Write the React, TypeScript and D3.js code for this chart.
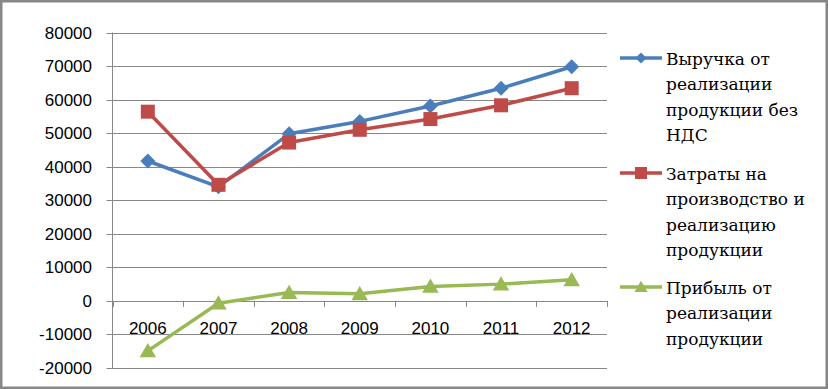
import * as d3 from "d3";

const years = ["2006", "2007", "2008", "2009", "2010", "2011", "2012"];
const revenue = [41700, 34000, 49800, 53500, 58100, 63400, 69800];
const costs = [56400, 34600, 47200, 51000, 54200, 58300, 63400];
const profit = [-14900, -700, 2500, 2100, 4300, 5000, 6300];
const yTicks = [80000, 70000, 60000, 50000, 40000, 30000, 20000, 10000, 0, -10000, -20000];

const legendLabels = [
  ["Выручка от", "реализации", "продукции без", "НДС"],
  ["Затраты на", "производство и", "реализацию", "продукции"],
  ["Прибыль от", "реализации", "продукции"],
];

const W = 828;
const H = 389;
const PL = 112.5;
const PR = 607;
const PT = 32.5;
const PB = 368;

const BLUE = "#4a7ebb";
const RED = "#be4b48";
const GREEN = "#98b954";
const GRID = "#878787";
const SANS = "'Liberation Sans', Arial, sans-serif";
const SERIF = "'DejaVu Serif', serif";

type Marker = "diamond" | "square" | "triangle";

function markerPath(kind: Marker, s: number) {
  if (kind === "diamond") return `M0,${-s}L${s},0L0,${s}L${-s},0Z`;
  if (kind === "square") return `M${-s},${-s}H${s}V${s}H${-s}Z`;
  return `M0,${-s * 1.05}L${s * 1.1},${s * 0.85}L${-s * 1.1},${s * 0.85}Z`;
}

export default function App() {
  const x = d3.scaleBand<string>().domain(years).range([PL, PR]);
  const y = d3.scaleLinear().domain([-20000, 80000]).range([PB, PT]);
  const cx = (yr: string) => x(yr)! + x.bandwidth() / 2;

  const series = [
    { values: revenue, color: BLUE, marker: "diamond" as Marker, size: 7.5, lsize: 5.5 },
    { values: costs, color: RED, marker: "square" as Marker, size: 7, lsize: 6 },
    { values: profit, color: GREEN, marker: "triangle" as Marker, size: 7.5, lsize: 6 },
  ];

  const line = d3.line<number>().x((_, i) => cx(years[i])).y(d => y(d));
  const legendY = [58, 173, 287];
  const bounds = [PL, ...years.map(yr => x(yr)! + x.bandwidth())];

  return (
    <svg width={W} height={H} style={{ position: "absolute", left: 0, top: 0 }}>
      <rect x={0} y={0} width={W} height={H} fill="#fff" />
      <rect x={1.25} y={1.25} width={W - 2.5} height={H - 2.5} fill="none" stroke="#878787" strokeWidth={2.5} />

      {/* gridlines + y labels */}
      {yTicks.map(t => (
        <g key={t}>
          <line x1={PL - 6} x2={PR} y1={Math.round(y(t)) + 0.5} y2={Math.round(y(t)) + 0.5} stroke={GRID} strokeWidth={1} />
          <text x={92} y={y(t) + 6} textAnchor="end" style={{ fontFamily: SANS }} fontSize={17} fill="#000">
            {t}
          </text>
        </g>
      ))}
      <line x1={PL} x2={PL} y1={PT} y2={PB} stroke={GRID} strokeWidth={1} />

      {/* x axis ticks at zero */}
      {bounds.map((b, i) => (
        <line key={i} x1={Math.round(b) + 0.5} x2={Math.round(b) + 0.5} y1={y(0)} y2={y(0) + 6} stroke={GRID} strokeWidth={1} />
      ))}
      {years.map(yr => (
        <text key={yr} x={cx(yr)} y={334} textAnchor="middle" style={{ fontFamily: SANS }} fontSize={17} fill="#000">
          {yr}
        </text>
      ))}

      {/* series */}
      {series.map((s, si) => (
        <g key={si}>
          <path d={line(s.values)!} fill="none" stroke={s.color} strokeWidth={3.5} strokeLinejoin="round" />
          {s.values.map((v, i) => (
            <path key={i} transform={`translate(${cx(years[i])},${y(v)})`} d={markerPath(s.marker, s.size)} fill={s.color} />
          ))}
        </g>
      ))}

      {/* legend */}
      {series.map((s, si) => (
        <g key={si}>
          <line x1={620} x2={662} y1={legendY[si]} y2={legendY[si]} stroke={s.color} strokeWidth={3.5} />
          <path transform={`translate(641,${legendY[si]})`} d={markerPath(s.marker, s.lsize)} fill={s.color} />
          {legendLabels[si].map((l, li) => (
            <text key={li} x={666} y={legendY[si] + 7 + li * 25.3} style={{ fontFamily: SERIF }} fontSize={17} fill="#000">
              {l}
            </text>
          ))}
        </g>
      ))}
    </svg>
  );
}
